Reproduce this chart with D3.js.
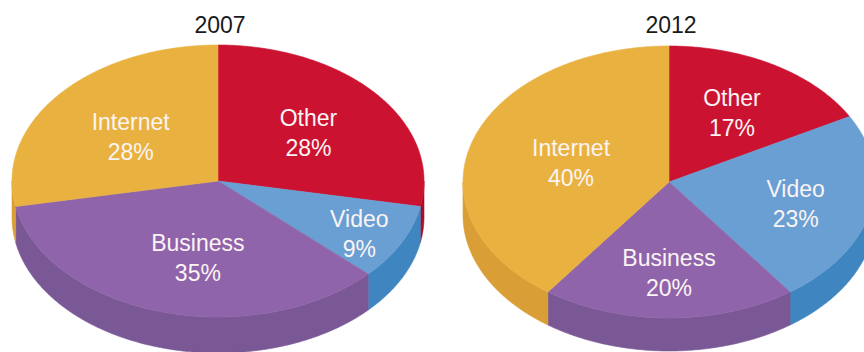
<!DOCTYPE html>
<html>
<head>
<meta charset="utf-8">
<script src="https://cdn.jsdelivr.net/npm/d3@7"></script>
<style>
  html, body { margin: 0; padding: 0; background: #ffffff; }
  svg { display: block; }
</style>
</head>
<body>
<svg id="chart" width="864" height="352"></svg>
<script>
// Traffic share by category, two years
const years = ["2007", "2012"];
const categories = ["Other", "Video", "Business", "Internet"];
const share2007 = [28, 9, 35, 28];
const share2012 = [17, 23, 20, 40];

const topColors  = { Other: "#cb1230", Video: "#6a9fd3", Business: "#9064aa", Internet: "#e9b240" };
const sideColors = { Other: "#a80e27", Video: "#3f86c0", Business: "#7a5896", Internet: "#d99f36" };

// Each pie: centre of the top face, radii of the tilted disc and rim depth
const pies = [
  { year: years[0], values: share2007, cx: 218, cy: 181, rx: 206, ry: 136, depth: 36,
    labelAt: { Other: [0.57, 0.55], Video: [0.77, 0.86], Business: [0.35, 0.59], Internet: [0.55, 0.51] } },
  { year: years[1], values: share2012, cx: 669, cy: 182, rx: 206, ry: 136, depth: 33,
    labelAt: { Other: [0.60, 0.59], Video: [0.63, 0.74], Business: [0.0, 0.67], Internet: [0.50, 0.45] } }
];

const svg = d3.select("#chart");
const pieLayout = d3.pie().sort(null).value(d => d.value).startAngle(0).endAngle(2 * Math.PI);
const line = d3.line();

function drawPie(cfg) {
  const g = svg.append("g");
  const pt = (a, dy = 0) => [cfg.cx + cfg.rx * Math.sin(a), cfg.cy - cfg.ry * Math.cos(a) + dy];
  const arcPts = (a0, a1, dy = 0) => {
    const n = Math.max(2, Math.ceil((a1 - a0) / 0.01));
    return d3.range(n + 1).map(i => pt(a0 + (a1 - a0) * i / n, dy));
  };

  const slices = pieLayout(categories.map((c, i) => ({ cat: c, value: cfg.values[i] })));

  // Rim of the disc: only the front half (from 3 o'clock round to 9 o'clock) faces the viewer
  slices.forEach(s => {
    const a0 = Math.max(s.startAngle, Math.PI / 2);
    const a1 = Math.min(s.endAngle, 3 * Math.PI / 2);
    if (a1 <= a0) return;
    const upper = arcPts(a0, a1);
    const lower = arcPts(a0, a1, cfg.depth).reverse();
    g.append("path")
      .attr("d", line(upper.concat(lower)) + "Z")
      .attr("fill", sideColors[s.data.cat])
      .attr("stroke", sideColors[s.data.cat])
      .attr("stroke-width", 0.6);
  });

  // Top face wedges
  slices.forEach(s => {
    const pts = [[cfg.cx, cfg.cy]].concat(arcPts(s.startAngle, s.endAngle));
    g.append("path")
      .attr("d", line(pts) + "Z")
      .attr("fill", topColors[s.data.cat])
      .attr("stroke", topColors[s.data.cat])
      .attr("stroke-width", 0.6);
  });

  // Wedge labels: name and share, placed along each wedge's middle direction
  slices.forEach(s => {
    const mid = (s.startAngle + s.endAngle) / 2;
    const [fx, fy] = cfg.labelAt[s.data.cat];
    const x = cfg.cx + cfg.rx * fx * Math.sin(mid);
    const y = cfg.cy - cfg.ry * fy * Math.cos(mid);
    const t = g.append("text")
      .attr("x", x)
      .attr("y", y)
      .attr("text-anchor", "middle")
      .attr("font-family", "'Liberation Sans', Arial, sans-serif")
      .attr("font-size", 23)
      .attr("fill", "#fbf4f4");
    t.append("tspan").attr("x", x).attr("y", y - 7).text(s.data.cat);
    t.append("tspan").attr("x", x).attr("y", y + 23).text(s.data.value + "%");
  });

  // Year title above the pie
  svg.append("text")
    .attr("x", cfg.cx + 2)
    .attr("y", 33)
    .attr("text-anchor", "middle")
    .attr("font-family", "'Liberation Sans', Arial, sans-serif")
    .attr("font-size", 23)
    .attr("fill", "#1a1a1a")
    .text(cfg.year);
}

pies.forEach(drawPie);
</script>
</body>
</html>
